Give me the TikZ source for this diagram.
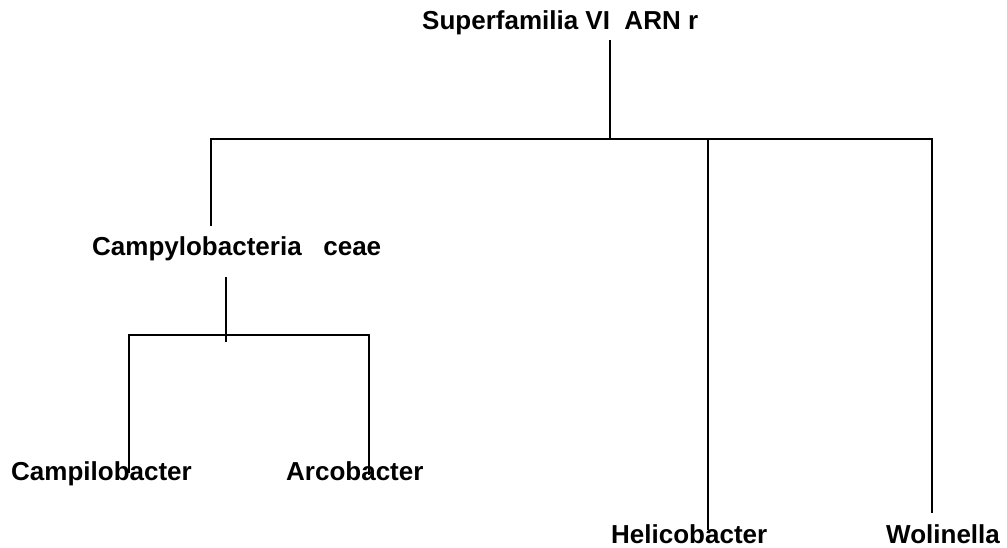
\documentclass[tikz,border=0pt]{standalone}
\usepackage{fontspec}
\setmainfont{Liberation Sans}

\begin{document}
\begin{tikzpicture}[x=1pt,y=-1pt,
    taxon/.style={font=\bfseries\fontsize{26}{30}\selectfont, inner sep=0pt, anchor=base west},
    branch/.style={line width=2pt}]
    % Canvas of the reference size
    \useasboundingbox (0,0) rectangle (1007,548);

    % Taxon labels (placed at their baselines)
    \node[taxon] (sup)  at (422,30)  {Superfamilia VI~~ARN r};
    \node[taxon] (camp) at (92,255)  {Campylobacteria~~~ceae};
    \node[taxon] (campi) at (11,480) {Campilobacter};
    \node[taxon] (arco) at (286,480) {Arcobacter};
    \node[taxon] (heli) at (611,543) {Helicobacter};
    \node[taxon] (woli) at (886,543) {Wolinella};

    % Branch points
    \coordinate (root) at (610,139);
    \coordinate (k1) at (211,139);
    \coordinate (k2) at (708,139);
    \coordinate (k3) at (932,139);
    \coordinate (fam) at (226,335);
    \coordinate (l1) at (129,335);
    \coordinate (l2) at (369,335);

    % First level
    \draw[branch, shorten <=4.5pt] (sup.south -| root) -- (root);
    \draw[branch, shorten <=10pt, shorten >=11pt] (camp.north -| k1) -- (k1) -- (k3) -- (woli.north -| k3);
    \draw[branch, shorten >=-6pt] (k2) -- (heli.north -| k2);

    % Second level
    \draw[branch, shorten <=16.5pt, shorten >=-7pt] (camp.south -| fam) -- (fam);
    \draw[branch, shorten <=-12pt, shorten >=-14pt] (campi.north -| l1) -- (l1) -- (l2) -- (arco.north -| l2);
\end{tikzpicture}
\end{document}
